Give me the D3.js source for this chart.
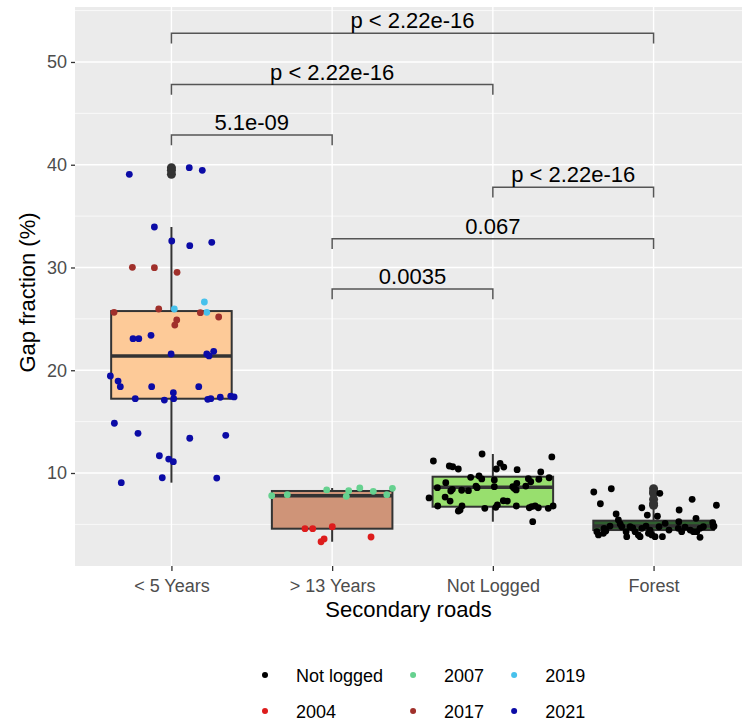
<!DOCTYPE html>
<html>
<head>
<meta charset="utf-8">
<script src="https://cdn.jsdelivr.net/npm/d3@7"></script>
<style>
  body { margin: 0; background: #fff; }
  svg { display: block; font-family: "Liberation Sans", Arial, sans-serif; }
</style>
</head>
<body>
<div id="chart"></div>
<script>
// Categories and box summaries
const categories = ["< 5 Years", "> 13 Years", "Not Logged", "Forest"];
const boxLow    = [9.06, 3.31, 5.26, 3.74];
const boxQ1     = [17.23, 4.58, 6.72, 4.45];
const boxMedian = [21.39, 7.79, 8.61, 4.84];
const boxQ3     = [25.76, 8.25, 9.64, 5.36];
const boxHigh   = [33.94, 8.54, 11.85, 6.62];
const outliers  = [[39.07, 39.46, 39.71], [], [], [8.47, 8.15, 8.02, 7.44, 7.01, 6.86]];

// Jittered points: [value, jitter (fraction of band step), group]
const pointsLt5 = [
  [39.07, -0.262, "2021"], [39.71, 0.111, "2021"], [39.46, 0.192, "2021"],
  [33.94, -0.106, "2021"], [32.58, 0.002, "2021"], [32.12, 0.114, "2021"], [32.45, 0.251, "2021"],
  [30.02, -0.243, "2017"], [29.98, -0.106, "2017"], [29.53, 0.035, "2017"],
  [26.64, 0.205, "2019"], [25.96, 0.018, "2019"], [25.64, 0.220, "2019"],
  [25.64, -0.357, "2017"], [25.96, -0.079, "2017"], [25.60, 0.180, "2017"], [25.18, 0.294, "2017"],
  [24.89, 0.033, "2017"], [24.40, 0.021, "2017"],
  [23.07, -0.239, "2021"], [23.07, -0.203, "2021"], [23.40, -0.127, "2021"],
  [21.58, -0.002, "2021"], [21.58, 0.220, "2021"], [21.39, 0.234, "2021"], [21.84, 0.263, "2021"],
  [19.44, -0.380, "2021"], [18.95, -0.332, "2021"], [18.40, -0.318, "2021"], [18.40, -0.123, "2021"],
  [18.40, 0.170, "2021"], [17.81, 0.012, "2021"], [17.23, -0.225, "2021"], [17.10, -0.044, "2021"],
  [17.23, 0.014, "2021"], [17.17, 0.226, "2021"], [17.23, 0.245, "2021"], [17.37, 0.304, "2021"],
  [17.49, 0.369, "2021"], [17.40, 0.390, "2021"],
  [14.84, -0.355, "2021"], [13.86, -0.208, "2021"], [13.38, 0.114, "2021"], [13.67, 0.338, "2021"],
  [11.68, -0.075, "2021"], [11.36, -0.017, "2021"], [11.10, 0.012, "2021"],
  [9.54, -0.057, "2021"], [9.51, 0.282, "2021"], [9.06, -0.312, "2021"]
];
const pointsGt13 = [
  [7.79, -0.376, "2007"], [7.89, -0.279, "2007"], [8.35, -0.034, "2007"], [8.28, 0.103, "2007"],
  [7.73, 0.088, "2007"], [8.54, 0.172, "2007"], [8.22, 0.256, "2007"], [7.89, 0.340, "2007"],
  [8.51, 0.375, "2007"],
  [4.58, -0.169, "2004"], [4.58, -0.121, "2004"], [4.77, 0.001, "2004"], [3.31, -0.069, "2004"],
  [3.58, -0.050, "2004"], [3.77, 0.242, "2004"]
];
const pointsNotLogged = [
  [11.17, -0.370], [11.85, -0.067], [11.56, 0.367], [10.68, -0.271], [10.61, -0.250], [10.39, -0.215],
  [10.94, 0.045], [10.58, 0.068], [10.39, 0.022], [10.32, 0.151], [10.10, 0.298], [9.58, -0.138],
  [9.71, -0.086], [9.42, -0.069], [9.32, 0.009], [9.45, 0.221], [9.15, 0.236], [9.39, 0.286],
  [9.54, 0.350], [9.06, -0.293], [8.57, -0.345], [8.73, -0.105], [8.57, -0.098], [8.67, 0.009],
  [8.67, 0.124], [9.00, 0.149], [8.35, 0.145], [8.51, 0.132], [8.73, 0.205], [8.41, -0.252],
  [8.25, -0.262], [8.32, -0.194], [8.28, -0.152], [7.57, -0.397], [7.66, -0.297], [7.27, -0.266],
  [7.30, 0.065], [7.27, 0.090], [6.89, 0.028], [6.66, 0.018], [6.79, -0.343], [6.79, -0.192],
  [6.40, -0.204], [6.30, -0.215], [6.56, -0.050], [6.79, 0.146], [6.62, 0.227], [6.72, 0.242],
  [6.79, 0.263], [6.62, 0.283], [6.56, 0.345], [6.79, 0.375], [5.26, 0.248]
].map(d => [d[0], d[1], "Not logged"]);
const pointsForest = [
  [8.15, -0.372], [8.47, -0.263], [7.01, -0.331], [8.02, 0.039], [6.62, -0.073], [6.01, -0.233],
  [5.91, -0.039], [5.79, 0.024], [7.44, 0.240], [6.86, 0.391], [6.40, 0.159], [5.59, 0.264],
  [5.26, 0.157], [5.16, 0.368], [4.84, 0.376], [4.29, -0.353], [3.97, -0.343], [4.62, -0.308],
  [4.36, -0.297], [4.84, -0.271], [5.43, -0.219], [5.04, -0.208], [4.29, -0.171], [3.80, -0.167],
  [4.77, -0.146], [4.29, -0.115], [3.97, -0.095], [4.62, -0.073], [3.80, -0.084], [4.84, -0.047],
  [4.45, -0.022], [3.97, -0.011], [3.80, 0.009], [4.77, 0.034], [3.80, 0.055], [5.10, 0.072],
  [4.62, 0.154], [4.29, 0.175], [4.45, 0.228], [4.29, 0.248], [4.29, 0.269], [4.62, 0.289],
  [4.77, 0.310], [3.74, 0.289], [4.77, 0.372], [4.77, -0.198], [4.13, -0.312], [4.13, -0.032],
  [4.65, -0.130], [4.45, 0.096], [4.74, 0.196]
].map(d => [d[0], d[1], "Not logged"]);
const pointGroups = [pointsLt5, pointsGt13, pointsNotLogged, pointsForest];

// Pairwise comparison brackets: [from, to, y value, label]
const comparisons = [
  [0, 3, 52.8, "p < 2.22e-16"],
  [0, 2, 47.8, "p < 2.22e-16"],
  [0, 1, 42.9, "5.1e-09"],
  [2, 3, 37.8, "p < 2.22e-16"],
  [1, 3, 32.8, "0.067"],
  [1, 2, 27.9, "0.0035"]
];

const legendLabels = ["Not logged", "2004", "2007", "2017", "2019", "2021"];
const yTicks = [10, 20, 30, 40, 50];
const yMinor = [5, 15, 25, 35, 45, 55];

// Styling
const boxColors = ["#fdca98", "#cf9478", "#98df6e", "#2f5f2f"];
const yearColors = {
  "Not logged": "#000000", "2004": "#dd1c1c", "2007": "#66d18f",
  "2017": "#a0302b", "2019": "#47c1ec", "2021": "#0b0ba6"
};

const width = 742, height = 724;
const panel = { left: 75, right: 750, top: 7, bottom: 566 };

const svg = d3.select("#chart").append("svg")
  .attr("width", width).attr("height", height);

svg.append("rect").attr("width", width).attr("height", height).attr("fill", "#fff");

const x = d3.scalePoint().domain(categories)
  .range([panel.left, panel.right]).padding(0.6);
const step = x.step();
const y = d3.scaleLinear().domain([0.95, 55.35]).range([panel.bottom, panel.top]);

// Panel background + grid
svg.append("rect")
  .attr("x", panel.left).attr("y", panel.top)
  .attr("width", panel.right - panel.left).attr("height", panel.bottom - panel.top)
  .attr("fill", "#ebebeb");

svg.append("g").selectAll("line").data(yMinor).join("line")
  .attr("x1", panel.left).attr("x2", panel.right)
  .attr("y1", d => y(d)).attr("y2", d => y(d))
  .attr("stroke", "#fff").attr("stroke-width", 0.7);

svg.append("g").selectAll("line").data(yTicks).join("line")
  .attr("x1", panel.left).attr("x2", panel.right)
  .attr("y1", d => y(d)).attr("y2", d => y(d))
  .attr("stroke", "#fff").attr("stroke-width", 1.4);

svg.append("g").selectAll("line").data(categories).join("line")
  .attr("x1", d => x(d)).attr("x2", d => x(d))
  .attr("y1", panel.top).attr("y2", panel.bottom)
  .attr("stroke", "#fff").attr("stroke-width", 1.4);

// Boxplots
const boxW = step * 0.75;
const boxG = svg.append("g");
categories.forEach((c, i) => {
  const cx = x(c);
  boxG.append("line")
    .attr("x1", cx).attr("x2", cx).attr("y1", y(boxQ3[i])).attr("y2", y(boxHigh[i]))
    .attr("stroke", "#333").attr("stroke-width", 2);
  boxG.append("line")
    .attr("x1", cx).attr("x2", cx).attr("y1", y(boxQ1[i])).attr("y2", y(boxLow[i]))
    .attr("stroke", "#333").attr("stroke-width", 2);
  boxG.append("rect")
    .attr("x", cx - boxW / 2).attr("width", boxW)
    .attr("y", y(boxQ3[i])).attr("height", y(boxQ1[i]) - y(boxQ3[i]))
    .attr("fill", boxColors[i]).attr("stroke", "#333").attr("stroke-width", 2);
  boxG.append("line")
    .attr("x1", cx - boxW / 2).attr("x2", cx + boxW / 2)
    .attr("y1", y(boxMedian[i])).attr("y2", y(boxMedian[i]))
    .attr("stroke", "#333").attr("stroke-width", 3.5);
  boxG.selectAll(null).data(outliers[i]).join("circle")
    .attr("cx", cx).attr("cy", d => y(d)).attr("r", 4.5)
    .attr("fill", "#333");
});

// Jittered points
categories.forEach((c, i) => {
  svg.append("g").selectAll("circle").data(pointGroups[i]).join("circle")
    .attr("cx", d => x(c) + d[1] * step)
    .attr("cy", d => y(d[0]))
    .attr("r", 3.4)
    .attr("fill", d => yearColors[d[2]]);
});

// Comparison brackets
const tip = 1.0;
const brG = svg.append("g");
comparisons.forEach(([a, b, v, label]) => {
  const x1 = x(categories[a]), x2 = x(categories[b]);
  brG.append("path")
    .attr("d", `M${x1},${y(v - tip)}V${y(v)}H${x2}V${y(v - tip)}`)
    .attr("fill", "none").attr("stroke", "#555").attr("stroke-width", 1.5);
  brG.append("text")
    .attr("x", (x1 + x2) / 2).attr("y", y(v) - 5)
    .attr("text-anchor", "middle")
    .attr("font-size", 22).attr("fill", "#000")
    .text(label);
});

// Axes
const yAxis = svg.append("g")
  .attr("transform", `translate(${panel.left},0)`)
  .call(d3.axisLeft(y).tickValues(yTicks).tickSize(4).tickPadding(4));
yAxis.select(".domain").remove();
yAxis.selectAll("line").attr("stroke", "#333").attr("stroke-width", 1.3);
yAxis.selectAll("text").attr("fill", "#4d4d4d").attr("font-size", 18)
  .attr("font-family", "Liberation Sans, Arial, sans-serif");

const xAxis = svg.append("g")
  .attr("transform", `translate(0,${panel.bottom})`)
  .call(d3.axisBottom(x).tickSize(5).tickPadding(8));
xAxis.select(".domain").remove();
xAxis.selectAll("line").attr("stroke", "#333").attr("stroke-width", 1.3);
xAxis.selectAll("text").attr("fill", "#4d4d4d").attr("font-size", 18)
  .attr("font-family", "Liberation Sans, Arial, sans-serif");

svg.append("text")
  .attr("x", (panel.left + width) / 2).attr("y", 617)
  .attr("text-anchor", "middle").attr("font-size", 22).attr("fill", "#000")
  .text("Secondary roads");

svg.append("text")
  .attr("transform", `translate(35,${(panel.top + panel.bottom) / 2 + 6}) rotate(-90)`)
  .attr("text-anchor", "middle").attr("font-size", 22).attr("fill", "#000")
  .text("Gap fraction (%)");

// Legend: 2 rows, filled column by column
const legendG = svg.append("g");
const nrow = 2;
const ncol = Math.ceil(legendLabels.length / nrow);
const rowY = [675, 711];
let colX = 265;
for (let c = 0; c < ncol; c++) {
  let maxW = 0;
  for (let r = 0; r < nrow; r++) {
    const lab = legendLabels[c * nrow + r];
    if (!lab) continue;
    legendG.append("circle")
      .attr("cx", colX).attr("cy", rowY[r]).attr("r", 3)
      .attr("fill", yearColors[lab]);
    const t = legendG.append("text")
      .attr("x", colX + 31).attr("y", rowY[r] + 6.5)
      .attr("font-size", 18).attr("fill", "#000")
      .text(lab);
    maxW = Math.max(maxW, t.node().getComputedTextLength());
  }
  colX += 31 + maxW + 30;
}
</script>
</body>
</html>
